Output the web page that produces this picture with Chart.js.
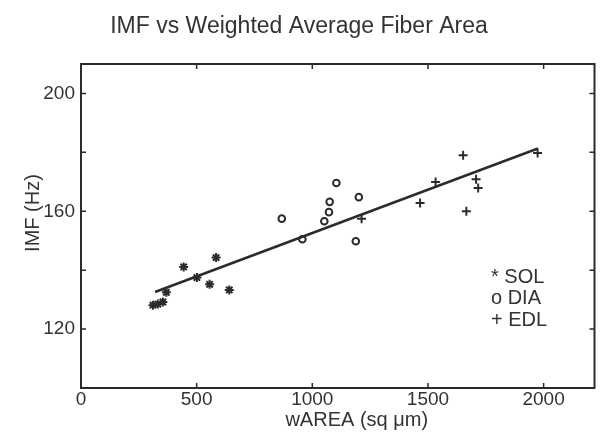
<!DOCTYPE html>
<html>
<head>
<meta charset="utf-8">
<title>IMF vs Weighted Average Fiber Area</title>
<script src="https://cdn.jsdelivr.net/npm/chart.js@4/dist/chart.umd.min.js"></script>
<style>
  html, body { margin: 0; padding: 0; background: #fff; }
</style>
</head>
<body>
<canvas id="chart" width="601" height="432"></canvas>
<script>
// values
const solX = [311, 332, 354, 369, 444, 501, 556, 584, 641];
const solY = [128.1, 128.5, 129.2, 132.5, 141.1, 137.5, 135.2, 144.3, 133.3];

const diaX = [868, 957, 1052, 1072, 1075, 1104, 1201, 1188];
const diaY = [157.5, 150.5, 156.6, 159.7, 163.2, 169.6, 164.8, 149.8];

const edlX = [1213, 1466, 1533, 1652, 1666, 1708, 1717, 1974];
const edlY = [157.5, 162.8, 169.9, 179.0, 160.0, 170.9, 167.9, 179.8];

// regression line end points
const fitX = [320, 1975];
const fitY = [132.6, 181.3];

const xTicks = [0, 500, 1000, 1500, 2000];
const yTicks = [100, 120, 140, 160, 180, 200];
const yLabels = [120, 160, 200];

const legendGlyphs = ['*', 'o', '+'];

const INK = '#2b2b2b';
const TEXT = '#333333';
const FONT = '"Liberation Sans", Arial, sans-serif';

const pts = (xs, ys) => xs.map((v, i) => ({ x: v, y: ys[i] }));

const framePlugin = {
  id: 'frame',
  afterDraw(chart) {
    const { ctx, chartArea: a, scales: { x, y } } = chart;
    ctx.save();
    ctx.strokeStyle = INK;
    ctx.lineWidth = 2;
    ctx.strokeRect(a.left, a.top, a.right - a.left, a.bottom - a.top);

    // inward ticks on all four sides
    ctx.lineWidth = 1.5;
    ctx.beginPath();
    x.ticks.forEach(t => {
      const px = x.getPixelForValue(t.value);
      if (px <= a.left + 1 || px >= a.right - 1) return;
      ctx.moveTo(px, a.bottom); ctx.lineTo(px, a.bottom - 5);
      ctx.moveTo(px, a.top); ctx.lineTo(px, a.top + 5);
    });
    y.ticks.forEach(t => {
      const py = y.getPixelForValue(t.value);
      if (py >= a.bottom - 1 || py <= a.top + 1) return;
      ctx.moveTo(a.left, py); ctx.lineTo(a.left + 5, py);
      ctx.moveTo(a.right, py); ctx.lineTo(a.right - 5, py);
    });
    ctx.stroke();

    // axis titles
    ctx.fillStyle = TEXT;
    ctx.font = '20px ' + FONT;
    ctx.textAlign = 'center';
    ctx.textBaseline = 'middle';
    ctx.fillText('wAREA (sq \u03bcm)', (a.left + a.right) / 2 + 19, 420);
    ctx.save();
    ctx.translate(33, (a.top + a.bottom) / 2 - 13);
    ctx.rotate(-Math.PI / 2);
    ctx.fillText('IMF (Hz)', 0, 0);
    ctx.restore();

    // legend text, MATLAB style
    ctx.textAlign = 'left';
    ctx.font = '20px ' + FONT;
    const sets = chart.data.datasets.filter(d => d.label);
    sets.forEach((d, i) => {
      ctx.fillText(legendGlyphs[i] + ' ' + d.label, a.left + 410, a.top + 213 + i * 21.5);
    });
    ctx.restore();
  }
};

new Chart(document.getElementById('chart'), {
  type: 'scatter',
  data: {
    datasets: [
      {
        label: 'SOL',
        data: pts(solX, solY),
        pointStyle: 'star',
        pointRadius: 4.5,
        borderWidth: 2,
        borderColor: INK,
        backgroundColor: INK
      },
      {
        label: 'DIA',
        data: pts(diaX, diaY),
        pointStyle: 'circle',
        pointRadius: 3.3,
        borderWidth: 2,
        borderColor: INK,
        backgroundColor: 'rgba(0,0,0,0)'
      },
      {
        label: 'EDL',
        data: pts(edlX, edlY),
        pointStyle: 'cross',
        pointRadius: 4.5,
        borderWidth: 2,
        borderColor: INK
      },
      {
        label: '',
        data: pts(fitX, fitY),
        showLine: true,
        pointRadius: 0,
        borderWidth: 2.5,
        borderColor: INK
      }
    ]
  },
  options: {
    responsive: false,
    animation: false,
    events: [],
    layout: { padding: { right: 3 } },
    plugins: {
      legend: { display: false },
      tooltip: { enabled: false },
      title: {
        display: true,
        text: 'IMF vs Weighted Average Fiber Area',
        color: TEXT,
        font: { family: FONT, size: 23, weight: 'normal' },
        padding: { top: 13, bottom: 23.4 }
      }
    },
    scales: {
      x: {
        type: 'linear',
        min: 0,
        max: 2220,
        afterBuildTicks: s => { s.ticks = xTicks.map(v => ({ value: v })); },
        afterFit: s => { s.height = 44; },
        grid: { display: false, drawTicks: false },
        border: { display: false },
        ticks: {
          autoSkip: false,
          maxRotation: 0,
          padding: 0,
          color: TEXT,
          font: { family: FONT, size: 19 },
          callback: v => String(v)
        }
      },
      y: {
        type: 'linear',
        min: 100,
        max: 210,
        afterBuildTicks: s => { s.ticks = yTicks.map(v => ({ value: v })); },
        afterFit: s => { s.width = 81; },
        grid: { display: false, drawTicks: false },
        border: { display: false },
        ticks: {
          autoSkip: false,
          padding: 6,
          color: TEXT,
          font: { family: FONT, size: 19 },
          callback: v => (yLabels.includes(v) ? String(v) : '')
        }
      }
    }
  },
  plugins: [framePlugin]
});
</script>
</body>
</html>
